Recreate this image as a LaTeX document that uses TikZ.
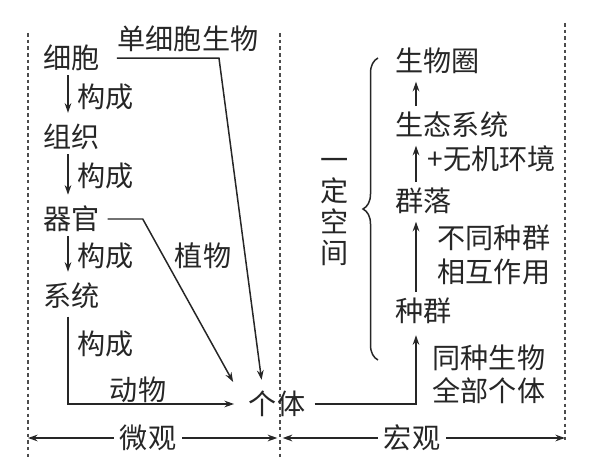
\documentclass[tikz,border=0pt]{standalone}
\usepackage{fontspec}
\setmainfont{Noto Sans CJK SC}
\usetikzlibrary{arrows.meta,decorations.pathreplacing}

\begin{document}
\begin{tikzpicture}[x=0.02cm,y=-0.02cm,
    font=\fontsize{16}{19}\selectfont, color=black!85,
    every node/.style={inner sep=0pt},
    >={Stealth[length=5.5pt,width=3.8pt]}, line width=0.85pt,
    dots/.style={black!70,line width=0.7pt,dash pattern=on 2pt off 1.8pt}]
    \useasboundingbox (0,0) rectangle (609,473);
    % dotted borders
    \foreach \x/\t/\b in {28/33/458,280/33/458,565/23/442} \draw[dots] (\x,\t) -- (\x,\b);
    \coordinate (lc) at (68,0);
    \coordinate (rc) at (416,0);
    % micro side
    \node[anchor=west] (xb) at (43,58) {细胞};
    \node[anchor=west] (zz) at (43,137) {组织};
    \node[anchor=west] (qg) at (43,219) {器官};
    \node[anchor=west] (xt) at (43,296) {系统};
    \node (dxb) at (188,39) {单细胞生物};
    \node (gt) at (277,404) {个体};
    \foreach \y [count=\i] in {97,176,256,344} \node[anchor=west] (gc\i) at (77,\y) {构成};
    \node (zw) at (203,256) {植物};
    \node (dw) at (138,390) {动物};
    \foreach \a/\b in {xb/zz,zz/qg,qg/xt}
        \draw[->,shorten <=2pt,shorten >=6pt] (\a.south -| lc) -- (\b.north -| lc);
    \draw[->,shorten >=6pt] ([yshift=-3pt]dxb.south west) -- ++(102,0) -- ([xshift=-8pt]gt.north);
    \draw[->] ([xshift=4pt]qg.east) -- ++(35,0) -- ([shift={(-15,-22)}]gt.west);
    \draw[->,shorten >=8pt] ([yshift=-4pt]xt.south -| lc) -- (lc |- gt) -- (gt.west);
    % macro side
    \node[anchor=west] (swq) at (395,61) {生物圈};
    \node[anchor=west] (stxt) at (395,125) {生态系统};
    \node[anchor=west] (ql) at (395,201) {群落};
    \node[anchor=west] (zq) at (395,311) {种群};
    \node[anchor=west] (wj) at (427,159) {+无机环境};
    \node[anchor=west,align=left] (btzq) at (437,255) {不同种群\\相互作用};
    \node[anchor=west,align=left] (tzsw) at (432,374) {同种生物\\全部个体};
    \node[align=center,font=\fontsize{16}{17.6}\selectfont] (ydkj) at (335,212) {一\\定\\空\\间};
    \draw[decorate,decoration={brace,amplitude=0.3cm}] (378,360) -- (378,58);
    \foreach \a/\b in {zq/ql,ql/stxt,stxt/swq}
        \draw[->,shorten <=3pt,shorten >=4pt] (\a.north -| rc) -- (\b.south -| rc);
    \draw[->,shorten <=5pt,shorten >=6pt] (gt.east) -- (rc |- gt) -- (zq.south -| rc);
    % bottom scale
    \coordinate (bl) at (28,438);
    \coordinate (bm) at (280,438);
    \coordinate (br) at (565,438);
    \node (wg) at (148,438) {微观};
    \node (hg) at (412,438) {宏观};
    \draw[->,shorten <=3pt] (wg) -- (bl);
    \draw[->,shorten <=3pt,shorten >=1.5pt] (wg) -- (bm);
    \draw[->,shorten <=3pt,shorten >=1.5pt] (hg) -- (bm);
    \draw[->,shorten <=3pt] (hg) -- (br);
\end{tikzpicture}
\end{document}
